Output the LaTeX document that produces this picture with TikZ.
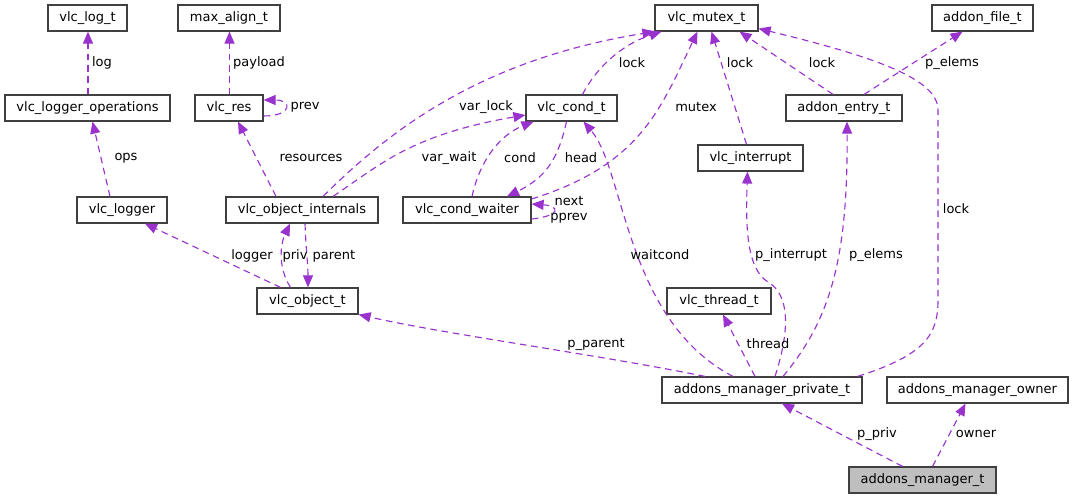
\documentclass[tikz,border=0pt]{standalone}
\usepackage{fontspec}
\setmainfont{DejaVu Sans}
\usetikzlibrary{arrows.meta,calc}
\definecolor{edgec}{HTML}{9A32CD}
\definecolor{boxc}{HTML}{404040}
\definecolor{fillc}{HTML}{BFBFBF}
\begin{document}
\begin{tikzpicture}[x=0.75pt,y=-0.75pt,
  box/.style={draw=boxc,line width=0.9pt,minimum height=19.5pt,inner sep=0pt,font=\fontsize{9.75pt}{11pt}\selectfont},
  lbl/.style={inner sep=0pt,font=\fontsize{9.75pt}{11pt}\selectfont},
  edge/.style={draw=edgec,line width=0.85pt,dash pattern=on 5pt off 3.5pt,-{Triangle[length=9pt,width=7.5pt,fill=edgec]}}]
\useasboundingbox (0,0) rectangle (1073,499);
% nodes
\node[box,minimum width=59.25pt] (logt) at (87.5,18) {vlc\_log\_t};
\node[box,minimum width=76.5pt] (maxal) at (229,18) {max\_align\_t};
\node[box,minimum width=77.25pt] (mutex) at (706.5,18) {vlc\_mutex\_t};
\node[box,minimum width=75.75pt] (afile) at (982.5,18) {addon\_file\_t};
\node[box,minimum width=123.75pt] (logops) at (87.5,108) {vlc\_logger\_operations};
\node[box,minimum width=51pt] (res) at (229,108) {vlc\_res};
\node[box,minimum width=68.25pt] (cond) at (571.5,108) {vlc\_cond\_t};
\node[box,minimum width=87pt] (aentry) at (844,108) {addon\_entry\_t};
\node[box,minimum width=78.75pt] (intr) at (750.5,158) {vlc\_interrupt};
\node[box,minimum width=67.5pt] (logger) at (122,210) {vlc\_logger};
\node[box,minimum width=114pt] (oint) at (302,210) {vlc\_object\_internals};
\node[box,minimum width=96pt] (cwait) at (467,210) {vlc\_cond\_waiter};
\node[box,minimum width=75.75pt] (obj) at (307.5,301) {vlc\_object\_t};
\node[box,minimum width=78pt] (thread) at (719,301) {vlc\_thread\_t};
\node[box,minimum width=150pt] (amp) at (762,390) {addons\_manager\_private\_t};
\node[box,minimum width=135.75pt] (amo) at (977.5,390) {addons\_manager\_owner};
\node[box,minimum width=110.25pt,fill=fillc] (am) at (922.5,480) {addons\_manager\_t};
% edges
\draw[edge] ($(logops.north)+(0.5,0)$) -- ($(logt.south)+(0.5,0)$);
\draw[edge] ($(res.north)+(0.5,0)$) -- ($(maxal.south)+(0.5,0)$);
\draw[edge] ($(res.east)+(0,8)$) .. controls +(29,0) and +(29,0) .. ($(res.east)+(0,-8)$);
\draw[edge] ($(logger.north)+(-12,0)$) -- ($(logops.south)+(5,0)$);
\draw[edge] ($(oint.north)+(-26,0)$) -- ($(res.south)+(9,0)$);
\draw[edge] ($(oint.north)+(21,0)$) .. controls (390,130) and (480,60) .. (mutex.south west);
\draw[edge] ($(oint.north)+(31,0)$) .. controls (380,165) and (410,135) .. ($(cond.west)+(0,7)$);
\draw[edge] ($(cwait.north)+(5,0)$) .. controls (480,160) and (500,135) .. ($(cond.south)+(-38,0)$);
\draw[edge] ($(cond.south)+(-5,0)$) .. controls (558,160) and (545,178) .. ($(cwait.north)+(40,0)$);
\draw[edge] ($(cwait.east)+(0,-11)$) .. controls (640,165) and (660,110) .. ($(mutex.south)+(-9,0)$);
\draw[edge] ($(cwait.east)+(0,9)$) .. controls +(29,-3) and +(29,2) .. ($(cwait.east)+(0,-6)$);
\draw[edge] ($(cond.north)+(11,0)$) .. controls (595,70) and (620,45) .. ($(mutex.south)+(-45,0)$);
\draw[edge] ($(intr.north)+(-4,0)$) -- ($(mutex.south)+(5,0)$);
\draw[edge] ($(aentry.north)+(-11,0)$) -- ($(mutex.south)+(33,0)$);
\draw[edge] ($(aentry.north)+(20,0)$) -- ($(afile.south)+(-20,0)$);
\draw[edge] ($(amp.north east)+(-5,0)$) .. controls (925,355) and (938,335) .. (938,300) -- (938,110) .. controls (938,80) and (880,58) .. ($(mutex.south east)+(0,-3)$);
\draw[edge] ($(amp.north)+(-29,0)$) .. controls (625,320) and (625,170) .. ($(cond.south)+(12,0)$);
\draw[edge] ($(amp.north)+(13,0)$) .. controls (790,330) and (790,295) .. (768,282) .. controls (745,268) and (746,220) .. ($(intr.south)+(-3,0)$);
\draw[edge] ($(amp.north)+(21,0)$) .. controls (830,320) and (848,260) .. ($(aentry.south)+(3,0)$);
\draw[edge] ($(amp.north)+(-7,0)$) -- ($(thread.south)+(4,0)$);
\draw[edge] ($(amp.north)+(-57,0)$) .. controls (600,355) and (450,335) .. (obj.south east);
\draw[edge] ($(obj.north)+(-27,0)$) -- ($(logger.south)+(23,0)$);
\draw[edge] ($(obj.north)+(-17,0)$) .. controls (278,268) and (280,245) .. ($(oint.south)+(-12,0)$);
\draw[edge] ($(oint.south)+(3,0)$) .. controls (306,250) and (308,265) .. ($(obj.north)+(0.5,0)$);
\draw[edge] ($(am.north)+(-20,0)$) -- ($(amp.south)+(20,0)$);
\draw[edge] ($(am.north)+(10,0)$) -- ($(amo.south)+(-12,0)$);
% labels
\node[lbl] (l1) at (102,63) {log};
\node[lbl] (l2) at (259,63) {payload};
\node[lbl] (l3) at (305,107) {prev};
\node[lbl] (l4) at (126,158) {ops};
\node[lbl] (l5) at (311,158) {resources};
\node[lbl] (l6) at (486,107) {var\_lock};
\node[lbl] (l7) at (449,158) {var\_wait};
\node[lbl] (l8) at (520,158) {cond};
\node[lbl] (l9) at (581,158) {head};
\node[lbl] (l10) at (632,63) {lock};
\node[lbl] (l11) at (696,107) {mutex};
\node[lbl] (l12) at (740,63) {lock};
\node[lbl] (l13) at (822,63) {lock};
\node[lbl] (l14) at (952,63) {p\_elems};
\node[lbl] (l15) at (956,209) {lock};
\node[lbl,align=center] (l16) at (569,210) {next\\pprev};
\node[lbl] (l17) at (660,255) {waitcond};
\node[lbl] (l18) at (791,255) {p\_interrupt};
\node[lbl] (l19) at (876,255) {p\_elems};
\node[lbl] (l20) at (768,344) {thread};
\node[lbl] (l21) at (596,344) {p\_parent};
\node[lbl] (l22) at (252,256) {logger};
\node[lbl] (l23) at (295,256) {priv};
\node[lbl] (l24) at (334,256) {parent};
\node[lbl] (l25) at (877,434) {p\_priv};
\node[lbl] (l26) at (976,434) {owner};
\end{tikzpicture}
\end{document}
